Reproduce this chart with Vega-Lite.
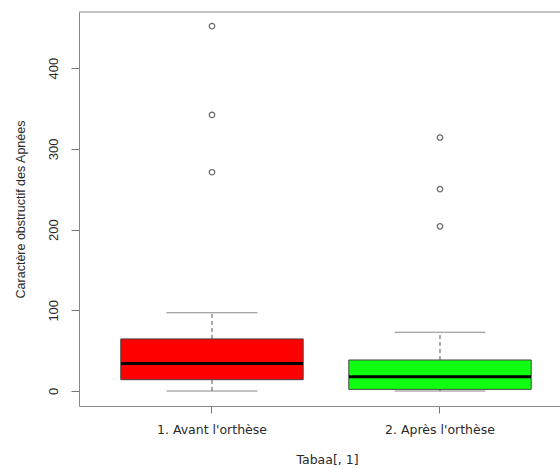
{
  "$schema": "https://vega.github.io/schema/vega-lite/v6.json",
  "autosize": {"type": "none"},
  "padding": {"left": 79, "top": 12, "right": 0, "bottom": 62},
  "width": 481,
  "height": 394,
  "background": "white",
  "view": {"stroke": null},
  "config": {
    "font": "Liberation Sans",
    "axis": {"grid": false}
  },
  "datasets": {
    "stats": [
      {"group": "1. Avant l'orthèse", "lo": 0, "q1": 14, "median": 34, "q3": 64.5, "hi": 97},
      {"group": "2. Après l'orthèse", "lo": 0, "q1": 2, "median": 17.7, "q3": 38.4, "hi": 72.7}
    ],
    "outliers": [
      {"group": "1. Avant l'orthèse", "value": 452},
      {"group": "1. Avant l'orthèse", "value": 342},
      {"group": "1. Avant l'orthèse", "value": 271},
      {"group": "2. Après l'orthèse", "value": 314},
      {"group": "2. Après l'orthèse", "value": 250},
      {"group": "2. Après l'orthèse", "value": 204}
    ],
    "frame": [
      {"top": 469.5}
    ]
  },
  "layer": [
    {
      "data": {"name": "stats"},
      "mark": {"type": "rule", "color": "#555", "strokeDash": [4, 3], "strokeWidth": 1},
      "encoding": {
        "x": {
          "field": "group", "type": "nominal",
          "scale": {"type": "band", "paddingInner": 0, "paddingOuter": 0.0548, "align": 0.76},
          "axis": {
            "orient": "bottom", "title": "Tabaa[, 1]", "labelAngle": 0,
            "domainColor": "#888", "tickColor": "#777", "tickSize": 7,
            "labelFont": "DejaVu Sans", "labelFontSize": 12.5, "labelColor": "#2a2a2a",
            "labelBaseline": "middle", "labelPadding": 16,
            "titleFont": "DejaVu Sans", "titleFontSize": 12.5, "titleFontWeight": "normal", "titleColor": "#2a2a2a",
            "titleBaseline": "middle", "titleX": 248, "titleY": 53, "titleAnchor": null
          }
        },
        "y": {
          "field": "lo", "type": "quantitative",
          "scale": {"domain": [-18.6, 469.5], "nice": false, "zero": false},
          "axis": {
            "values": [0, 100, 200, 300, 400],
            "title": "Caractère obstructif des Apnées",
            "domainColor": "#888", "tickColor": "#777", "tickSize": 8,
            "labelAngle": 270, "labelAlign": "center", "labelBaseline": "bottom", "labelPadding": 11,
            "labelFont": "Liberation Sans", "labelFontSize": 13, "labelColor": "#2a2a2a",
            "titleFont": "Liberation Sans", "titleFontSize": 12.5, "titleFontWeight": "normal", "titleColor": "#2a2a2a",
            "titleAngle": 270, "titleAlign": "center", "titleBaseline": "middle",
            "titleX": -59, "titleY": 197
          }
        },
        "y2": {"field": "q1"}
      }
    },
    {
      "data": {"name": "stats"},
      "mark": {"type": "rule", "color": "#555", "strokeDash": [4, 3], "strokeWidth": 1},
      "encoding": {
        "x": {"field": "group", "type": "nominal"},
        "y": {"field": "q3", "type": "quantitative"},
        "y2": {"field": "hi"}
      }
    },
    {
      "data": {"name": "frame"},
      "mark": {"type": "rule", "color": "#888", "strokeWidth": 1},
      "encoding": {
        "y": {"field": "top", "type": "quantitative"}
      }
    },
    {
      "data": {"name": "stats"},
      "mark": {"type": "tick", "color": "#555", "size": 91, "thickness": 1},
      "encoding": {
        "x": {"field": "group", "type": "nominal"},
        "y": {"field": "lo", "type": "quantitative"}
      }
    },
    {
      "data": {"name": "stats"},
      "mark": {"type": "tick", "color": "#555", "size": 91, "thickness": 1},
      "encoding": {
        "x": {"field": "group", "type": "nominal"},
        "y": {"field": "hi", "type": "quantitative"}
      }
    },
    {
      "data": {"name": "stats"},
      "mark": {"type": "bar", "width": {"band": 0.8}, "stroke": "#444", "strokeWidth": 1, "opacity": 1},
      "encoding": {
        "x": {"field": "group", "type": "nominal"},
        "y": {"field": "q1", "type": "quantitative"},
        "y2": {"field": "q3"},
        "fill": {"field": "group", "type": "nominal", "scale": {"range": ["#ff0000", "#10ff10"]}, "legend": null}
      }
    },
    {
      "data": {"name": "stats"},
      "mark": {"type": "tick", "color": "#000", "size": 182, "thickness": 3, "opacity": 1},
      "encoding": {
        "x": {"field": "group", "type": "nominal"},
        "y": {"field": "median", "type": "quantitative"}
      }
    },
    {
      "data": {"name": "outliers"},
      "mark": {"type": "point", "shape": "circle", "filled": false, "stroke": "#666", "strokeWidth": 1.2, "size": 30, "opacity": 1},
      "encoding": {
        "x": {"field": "group", "type": "nominal"},
        "y": {"field": "value", "type": "quantitative"}
      }
    }
  ]
}
